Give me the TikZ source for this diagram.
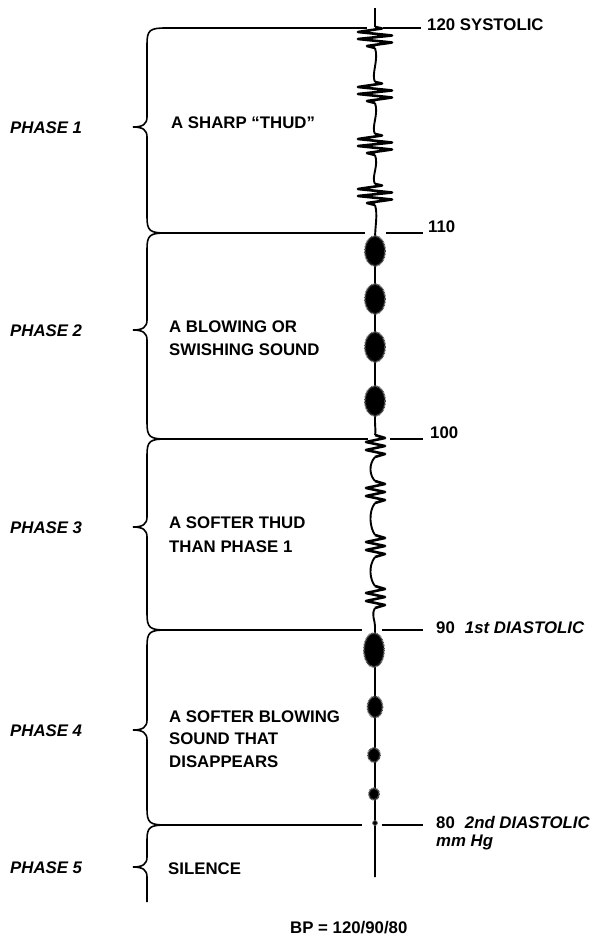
\documentclass[tikz,border=0pt]{standalone}
\usepackage{fontspec}
\setmainfont{Liberation Sans}
\begin{document}
\begin{tikzpicture}[x=1bp,y=-1bp,
  txt/.style={font=\fontsize{16.8bp}{20bp}\selectfont\bfseries, inner sep=0pt, anchor=base west},
  ph/.style={font=\fontsize{16.8bp}{20bp}\selectfont\bfseries\itshape, inner sep=0pt, anchor=base west},
  hl/.style={line width=1.9bp},
  br/.style={line width=1.6bp},
  ml/.style={line width=1.9bp},
  zz/.style={line width=2.6bp, line join=round},
  blob/.style={fill=black, draw=black!70, line width=1.8bp, dash pattern=on 0.8bp off 0.7bp},
  zigA/.pic={\draw[zz] (0,-11) -- (7,-9.5) -- (-17,-6) -- (17,-2.5) -- (-17,1) -- (17,4.5) -- (-8,8) -- (0,10);},
  zigB/.pic={\draw[zz] (0,-11) -- (10,-8) -- (-9,-4) -- (10,0) -- (-9,4) -- (10,8) -- (0,11);}
]
\useasboundingbox (0,0) rectangle (593,935);

\newcommand\phbrace[3]{\draw[br] (166,#1) .. controls (150,#1) and (147,#1+2) .. (147,#1+16) -- (147,#2-10) .. controls (147,#2-3) and (143,#2) .. (133,#2) .. controls (143,#2) and (147,#2+3) .. (147,#2+10) -- (147,#3-16) .. controls (147,#3-2) and (150,#3) .. (166,#3);}

% braces
\phbrace{28}{127}{233}
\phbrace{233}{330}{439}
\phbrace{439}{527}{630}
\phbrace{630}{730}{825}
\draw[br] (166,825) .. controls (150,825) and (147,827) .. (147,840) -- (147,857) .. controls (147,864) and (143,867) .. (133,867) .. controls (143,867) and (147,870) .. (147,877) -- (147,902);

% level lines, left part
\draw[hl] (163,28) -- (367,28);
\draw[hl] (163,233) -- (365,233);
\draw[hl] (163,439) -- (368,439);
\draw[hl] (163,630) -- (362,630);
\draw[hl] (163,825) -- (362,825);
% level lines, right part
\draw[hl] (383,28) -- (421,28);
\draw[hl] (386,233) -- (423,233);
\draw[hl] (390,439) -- (423,439);
\draw[hl] (382,630) -- (423,630);
\draw[hl] (382,825) -- (423,825);

% sound line, phase 1
\draw[ml] (375,8) -- (375,27);
\draw[ml] (375,48) .. controls (379,60) and (371,74) .. (375,82);
\draw[ml] (375,103) .. controls (379,114) and (371,127) .. (375,134);
\draw[ml] (375,155) .. controls (379,166) and (371,177) .. (375,184);
\draw[ml] (375,205) .. controls (378,215) and (375,225) .. (375,240) -- (375,420) .. controls (375,428) and (376,432) .. (375,435);
\pic at (375,38) {zigA};
\pic at (375,93) {zigA};
\pic at (375,145) {zigA};
\pic at (375,195) {zigA};

% phase 3
\pic at (375,446) {zigB};
\pic at (375,492) {zigB};
\pic at (375,546) {zigB};
\pic at (375,597) {zigB};
\draw[ml] (375,457) .. controls (368,465) and (370,476) .. (375,481);
\draw[ml] (375,503) .. controls (368,512) and (370,528) .. (375,535);
\draw[ml] (375,557) .. controls (368,566) and (370,580) .. (375,586);
\draw[ml] (375,608) .. controls (371,615) and (375,620) .. (375,626) -- (375,877);

% phase 2 blobs
\path[blob] (375,251) ellipse [x radius=10, y radius=15];
\path[blob] (375,299) ellipse [x radius=10, y radius=15];
\path[blob] (375,347) ellipse [x radius=10, y radius=15];
\path[blob] (375,401) ellipse [x radius=10, y radius=15];
% phase 4 blobs
\path[blob] (374,650) ellipse [x radius=10, y radius=17];
\path[blob] (375,707) ellipse [x radius=7.5, y radius=10.5];
\path[blob] (374,755) ellipse [x radius=6, y radius=7];
\path[blob] (374,794) ellipse [x radius=5, y radius=6];
\path[fill=black, draw=black!60, line width=0.8bp] (375,823) circle [radius=2.4];

% phase labels
\node[ph] (p1) at (10,133) {PHASE 1};
\node[ph] (p2) at (10,336) {PHASE 2};
\node[ph] (p3) at (10,533.5) {PHASE 3};
\node[ph] (p4) at (10,736) {PHASE 4};
\node[ph] (p5) at (10,873) {PHASE 5};

% descriptions
\node[txt] (t1) at (171,128.5) {A SHARP “THUD”};
\node[txt] (t2a) at (169,332) {A BLOWING OR};
\node[txt] (t2b) at (169,355) {SWISHING SOUND};
\node[txt] (t3a) at (169,528.5) {A SOFTER THUD};
\node[txt] (t3b) at (169,552) {THAN PHASE 1};
\node[txt] (t4a) at (169,722) {A SOFTER BLOWING};
\node[txt] (t4b) at (169,744) {SOUND THAT};
\node[txt] (t4c) at (169,767) {DISAPPEARS};
\node[txt] (t5) at (168,874) {SILENCE};

% pressure labels
\node[txt] (l120) at (427,30) {120 SYSTOLIC};
\node[txt] (l110) at (428,232) {110};
\node[txt] (l100) at (430,438) {100};
\node[txt] (l90) at (436,633.5) {90\hspace{0.6em}\itshape 1st DIASTOLIC};
\node[txt] (l80) at (436,828) {80\hspace{0.6em}\itshape 2nd DIASTOLIC};
\node[txt] (lmm) at (436,846) {\itshape mm Hg};

\node[txt] (bp) at (290,933) {BP = 120/90/80};
\end{tikzpicture}
\end{document}
